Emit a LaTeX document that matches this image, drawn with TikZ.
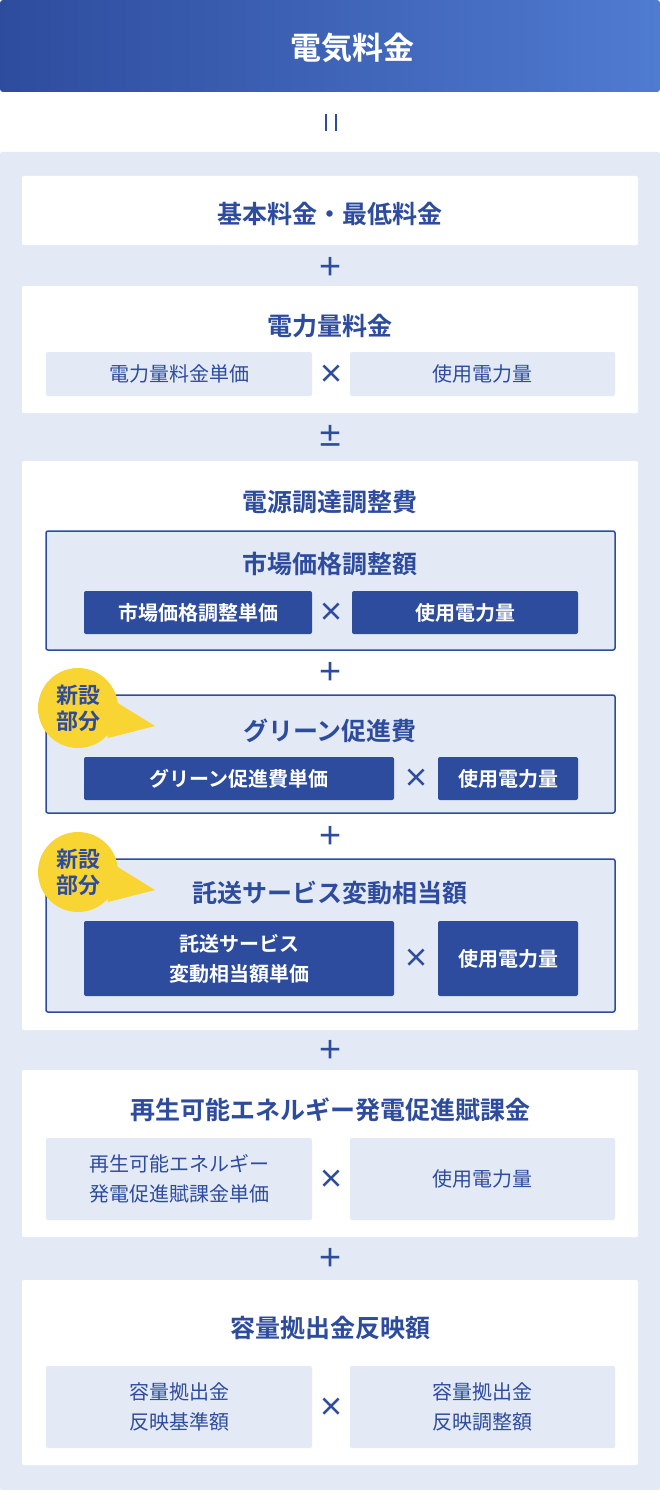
\documentclass[tikz,border=0pt]{standalone}
\usepackage{fontspec}
\setmainfont{Noto Sans CJK JP}[BoldFont={* Bold}]
\usetikzlibrary{positioning, calc}
\definecolor{dkblue}{HTML}{2E4C9E}
\definecolor{ltblue}{HTML}{4F7BD0}
\definecolor{pale}{HTML}{E4EAF5}
\definecolor{badgey}{HTML}{F9D533}
\tikzset{
  panel/.style={fill=white, draw=none, rounded corners=2pt},
  frame/.style={fill=pale, draw=dkblue, line width=1.5pt, rounded corners=2pt},
  head/.style={text=dkblue, font=\fontsize{25}{28}\selectfont\bfseries},
  op/.style={text=dkblue, font=\fontsize{26}{28}\selectfont\bfseries},
  lite/.style={fill=pale, text=dkblue, rounded corners=2pt, align=center,
    font=\fontsize{20}{30}\selectfont},
  dark/.style={fill=dkblue, text=white, rounded corners=2pt, align=center,
    font=\fontsize{20}{30}\selectfont\bfseries},
  badge/.style={circle, fill=badgey, minimum size=80pt, inner sep=0pt, align=center,
    text=dkblue, font=\fontsize{22}{26}\selectfont\bfseries},
}
\newcommand{\subbox}[6]{% style, name, x1, y1, x2, y2
  \node[#1, minimum width={#5-#3}, minimum height={#6-#4}, inner sep=0pt] (#2) at ({(#3+#5)/2},{(#4+#6)/2})}
\begin{document}
\begin{tikzpicture}[x=1pt, y=-1pt]
  \useasboundingbox (0,0) rectangle (660,1490);
  % title
  \shade[left color=dkblue, right color=ltblue, rounded corners=3pt] (0,0) rectangle (660,92);
  \node[text=white, font=\fontsize{31}{34}\selectfont\bfseries] (title) at (352,48) {電気料金};
  \draw[dkblue, line width=2pt] (326,114) -- (326,131) (336,114) -- (336,131);
  % background
  \fill[pale, rounded corners=2pt] (0,152) rectangle (660,1490);
  % 基本料金
  \subbox{panel}{basic}{22}{176}{638}{245} {};
  \node[head] (basict) at (330,214) {基本料金・最低料金};
  \node[op] (plus1) at (330,267) {＋};
  % 電力量料金
  \subbox{panel}{energy}{22}{286}{638}{413} {};
  \node[head] (energyt) at (330,326) {電力量料金};
  \subbox{lite}{energya}{46}{352}{312}{396} {電力量料金単価};
  \node[op] (times1) at (331,374) {×};
  \subbox{lite}{energyb}{350}{352}{615}{396} {使用電力量};
  \node[op] (pm) at (330,436) {±};
  % 電源調達調整費
  \subbox{panel}{supply}{22}{461}{638}{1030} {};
  \node[head] (supplyt) at (330,502) {電源調達調整費};
  % 市場価格調整額
  \draw[frame] (46,531) rectangle (615,650);
  \node[head] (markt) at (330,564) {市場価格調整額};
  \subbox{dark}{marka}{84}{591}{312}{634} {市場価格調整単価};
  \node[op] (times2) at (331,612) {×};
  \subbox{dark}{markb}{352}{591}{578}{634} {使用電力量};
  \node[op] (plus2) at (330,672) {＋};
  % グリーン促進費
  \draw[frame] (46,695) rectangle (615,813);
  \node[head] (greent) at (330,731) {グリーン促進費};
  \subbox{dark}{greena}{84}{757}{394}{800} {グリーン促進費単価};
  \node[op] (times3) at (416,778) {×};
  \subbox{dark}{greenb}{438}{757}{578}{800} {使用電力量};
  \fill[badgey] (100,692) -- (155,726) -- (108,738) -- cycle;
  \node[badge] (newa) at (78,708) {新設\\部分};
  \node[op] (plus3) at (330,836) {＋};
  % 託送サービス変動相当額
  \draw[frame] (46,859) rectangle (615,1012);
  \node[head] (transt) at (330,893) {託送サービス変動相当額};
  \subbox{dark}{transa}{84}{921}{394}{996} {託送サービス\\変動相当額単価};
  \node[op] (times4) at (416,958) {×};
  \subbox{dark}{transb}{438}{921}{578}{996} {使用電力量};
  \fill[badgey] (100,856) -- (155,890) -- (108,902) -- cycle;
  \node[badge] (newb) at (78,872) {新設\\部分};
  \node[op] (plus4) at (330,1050) {＋};
  % 再エネ賦課金
  \subbox{panel}{renew}{22}{1070}{638}{1237} {};
  \node[head] (renewt) at (330,1110) {再生可能エネルギー発電促進賦課金};
  \subbox{lite}{renewa}{46}{1138}{312}{1220} {再生可能エネルギー\\発電促進賦課金単価};
  \node[op] (times5) at (331,1179) {×};
  \subbox{lite}{renewb}{350}{1138}{615}{1220} {使用電力量};
  \node[op] (plus5) at (330,1258) {＋};
  % 容量拠出金反映額
  \subbox{panel}{cap}{22}{1280}{638}{1465} {};
  \node[head] (capt) at (330,1328) {容量拠出金反映額};
  \subbox{lite}{capa}{46}{1366}{312}{1448} {容量拠出金\\反映基準額};
  \node[op] (times6) at (331,1407) {×};
  \subbox{lite}{capb}{350}{1366}{615}{1448} {容量拠出金\\反映調整額};
\end{tikzpicture}
\end{document}
